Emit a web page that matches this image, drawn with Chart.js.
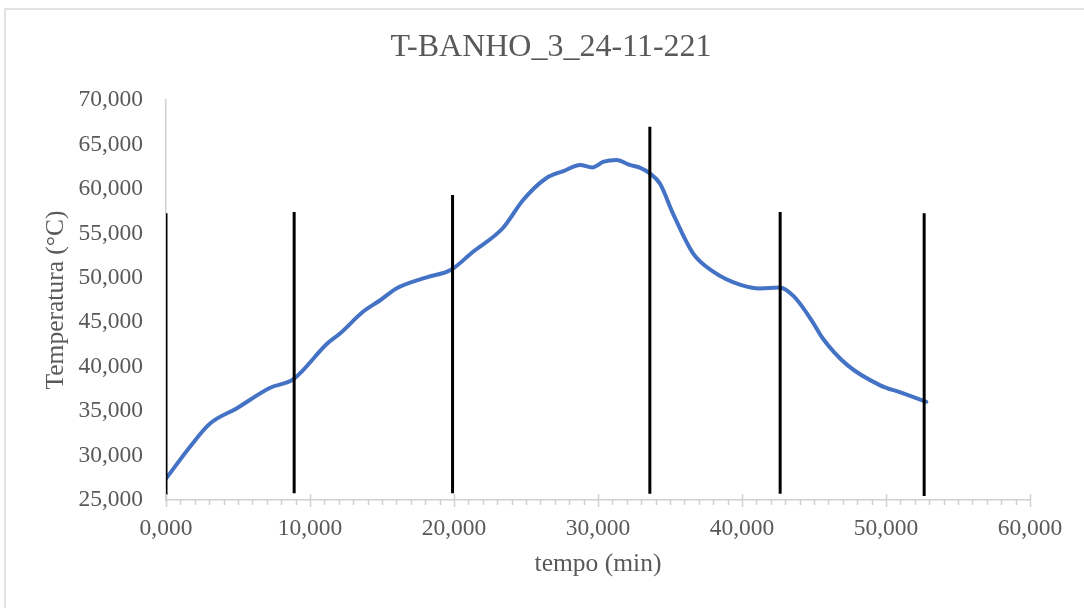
<!DOCTYPE html>
<html>
<head>
<meta charset="utf-8">
<script src="https://cdn.jsdelivr.net/npm/chart.js"></script>
<style>
  html, body { margin: 0; padding: 0; background: #ffffff; }
  #wrap { position: relative; width: 1084px; height: 608px; }
</style>
</head>
<body>
<div id="wrap"><canvas id="chart" width="1084" height="608"></canvas></div>
<script>
// temperature curve of the bath (tempo in min, T in °C)
const tempo = [0.0, 1.67, 3.06, 4.9, 7.2, 8.85, 11.2, 12.1, 13.7, 14.9, 16.0, 18.1, 19.8,
  21.3, 23.4, 24.8, 26.4, 27.6, 28.75, 29.6, 30.4, 31.3, 32.2, 32.9, 33.6, 34.3, 35.2,
  36.6, 38.0, 39.9, 41.25, 42.6, 43.6, 44.8, 45.6, 47.3, 49.6, 51.0, 52.8];
const temperatura = [27.4, 31.0, 33.6, 35.3, 37.6, 38.6, 42.6, 43.75, 46.2, 47.5, 48.8, 50.05, 50.9,
  52.9, 55.6, 58.75, 61.2, 62.0, 62.7, 62.4, 63.06, 63.25, 62.7, 62.4, 61.75, 60.6, 57.25,
  52.75, 50.7, 49.2, 48.8, 48.9, 47.9, 45.3, 43.2, 40.2, 37.9, 37.1, 36.05];

// vertical marker lines
const marcaX = [0.0, 8.9, 19.9, 33.6, 42.65, 52.65];
const marcaTopo = [57.25, 57.4, 59.3, 67.0, 57.4, 57.25];
const marcaBase = [25.55, 25.75, 25.75, 25.7, 25.7, 25.45];

// axis ticks
const yTicks = [25, 30, 35, 40, 45, 50, 55, 60, 65, 70];
const xTicks = [0, 10, 20, 30, 40, 50, 60];

const titulo = 'T-BANHO_3_24-11-221';
const serif = "'Liberation Serif', 'Times New Roman', serif";
const cinza = '#595959';
const eixo = '#d0d0d0';

const fmt = v => v.toFixed(3).replace('.', ',');

const datasets = marcaX.map((x, i) => ({
  data: [{ x: x, y: marcaBase[i] }, { x: x, y: marcaTopo[i] }],
  borderColor: '#000000',
  borderWidth: 3,
  pointRadius: 0,
  order: 0
}));
datasets.push({
  data: tempo.map((t, i) => ({ x: t, y: temperatura[i] })),
  borderColor: '#4472C4',
  borderWidth: 4,
  pointRadius: 0,
  cubicInterpolationMode: 'monotone',
  borderCapStyle: 'round',
  order: 1
});

// outer frame of the chart object, plus the title centred on the frame
const frame = {
  id: 'frame',
  beforeDraw(chart) {
    const ctx = chart.ctx;
    ctx.save();
    ctx.fillStyle = '#ffffff';
    ctx.fillRect(0, 0, chart.width, chart.height);
    ctx.strokeStyle = '#d9d9d9';
    ctx.lineWidth = 1.5;
    ctx.strokeRect(5, 9, chart.width + 20, chart.height + 20);
    ctx.restore();
  },
  afterDraw(chart) {
    const ctx = chart.ctx;
    ctx.save();
    ctx.fillStyle = cinza;
    ctx.font = '32px ' + serif;
    ctx.textAlign = 'center';
    ctx.textBaseline = 'middle';
    ctx.fillText(titulo, 551, 48);
    ctx.restore();
  }
};

// major and minor tick marks on the time axis
const xMarks = {
  id: 'xMarks',
  afterDraw(chart) {
    const sx = chart.scales.x;
    const base = chart.chartArea.bottom;
    const ctx = chart.ctx;
    ctx.save();
    ctx.strokeStyle = eixo;
    ctx.lineWidth = 1.5;
    for (let v = sx.min; v <= sx.max; v++) {
      const px = Math.round(sx.getPixelForValue(v)) + 0.5;
      const major = xTicks.includes(v);
      ctx.beginPath();
      ctx.moveTo(px, major ? base - 6 : base);
      ctx.lineTo(px, major ? base + 7 : base + 5);
      ctx.stroke();
    }
    ctx.restore();
  }
};

new Chart(document.getElementById('chart'), {
  type: 'line',
  data: { datasets },
  options: {
    responsive: false,
    animation: false,
    layout: { padding: { left: 10, right: 54, top: 100, bottom: 10 } },
    plugins: {
      legend: { display: false },
      tooltip: { enabled: false },
      title: { display: false }
    },
    scales: {
      x: {
        type: 'linear',
        min: 0,
        max: 60,
        afterBuildTicks: s => { s.ticks = xTicks.map(v => ({ value: v })); },
        afterFit: s => { s.height = 98; },
        grid: { display: false, drawTicks: false },
        border: { display: true, color: eixo, width: 1.5 },
        ticks: {
          color: cinza,
          padding: 15,
          maxRotation: 0,
          font: { family: serif, size: 23.5 },
          callback: v => fmt(v)
        },
        title: {
          display: true,
          text: 'tempo (min)',
          color: cinza,
          font: { family: serif, size: 25.5 },
          padding: { top: 0, bottom: 18 }
        }
      },
      y: {
        min: 25,
        max: 70,
        afterBuildTicks: s => { s.ticks = yTicks.map(v => ({ value: v })); },
        afterFit: s => { s.width = 156; },
        grid: { display: false, drawTicks: false },
        border: { display: true, color: eixo, width: 1.5 },
        ticks: {
          color: cinza,
          padding: 23,
          font: { family: serif, size: 23.5 },
          callback: v => fmt(v)
        },
        title: {
          display: true,
          text: 'Temperatura (°C)',
          color: cinza,
          font: { family: serif, size: 25.5 },
          padding: { top: 31, bottom: 0 }
        }
      }
    }
  },
  plugins: [frame, xMarks]
});
</script>
</body>
</html>
